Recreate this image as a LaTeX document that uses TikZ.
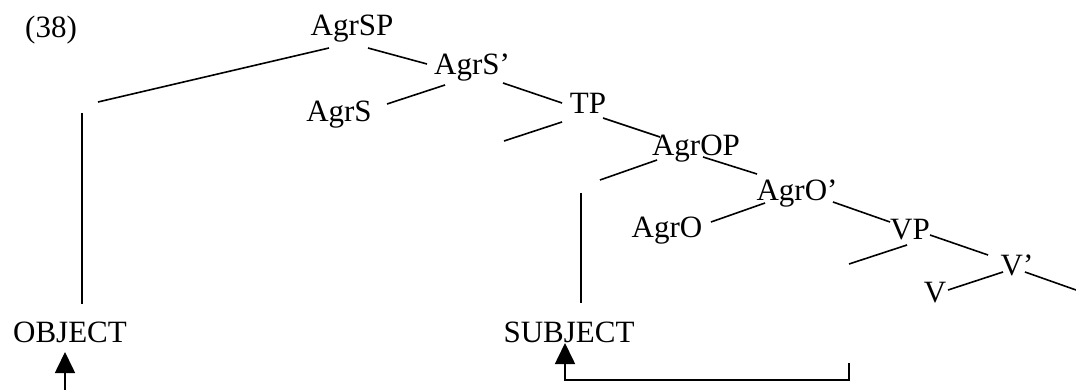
\documentclass[tikz,border=0pt]{standalone}
\usepackage{fontspec}
\setmainfont{Liberation Serif}
\usetikzlibrary{arrows.meta}
\begin{document}
\begin{tikzpicture}[x=1pt,y=-1pt,
  lbl/.style={anchor=base,inner sep=0pt,font=\fontsize{31}{37}\selectfont},
  branch/.style={line width=1.6pt},
  mv/.style={line width=1.6pt,-{Triangle[width=20pt,length=21pt]}}]
\useasboundingbox (0,0) rectangle (1076,390);
% labels
\node[lbl] (ex) at (51,38) {(38)};
\node[lbl] (agrsp) at (352,36) {AgrSP};
\node[lbl] (agrsbar) at (472,75) {AgrS’};
\node[lbl] (agrs) at (339,122) {AgrS};
\node[lbl] (tp) at (588,114) {TP};
\node[lbl] (agrop) at (696,156) {AgrOP};
\node[lbl] (agrobar) at (797,201) {AgrO’};
\node[lbl] (agro) at (667,237) {AgrO};
\node[lbl] (vp) at (910,240) {VP};
\node[lbl] (vbar) at (1017,275) {V’};
\node[lbl] (v) at (935,302) {V};
\node[lbl] (object) at (70,342) {OBJECT};
\node[lbl] (subject) at (569,342) {SUBJECT};
% branch end points
\coordinate (a1) at (329,48);  \coordinate (a2) at (98,102);
\coordinate (a3) at (368,48);  \coordinate (a4) at (427,64);
\coordinate (b1) at (445,85);  \coordinate (b2) at (387,104);
\coordinate (b3) at (503,83);  \coordinate (b4) at (562,103);
\coordinate (t1) at (562,122); \coordinate (t2) at (504,141);
\coordinate (t3) at (603,118); \coordinate (t4) at (660,137);
\coordinate (o1) at (657,160); \coordinate (o2) at (600,180);
\coordinate (o3) at (703,157); \coordinate (o4) at (757,174);
\coordinate (p1) at (765,203); \coordinate (p2) at (711,222);
\coordinate (p3) at (833,202); \coordinate (p4) at (890,222);
\coordinate (q1) at (907,245); \coordinate (q2) at (849,264);
\coordinate (q3) at (930,235); \coordinate (q4) at (988,255);
\coordinate (r1) at (1003,272); \coordinate (r2) at (948,290);
\coordinate (r3) at (1025,272); \coordinate (r4) at (1076,290);
\coordinate (s1) at (82,113);  \coordinate (s2) at (82,304);
\coordinate (u1) at (581,193); \coordinate (u2) at (581,303);
% branches
\draw[branch] (a1) -- (a2);
\draw[branch] (a3) -- (a4);
\draw[branch] (b1) -- (b2);
\draw[branch] (b3) -- (b4);
\draw[branch] (t1) -- (t2);
\draw[branch] (t3) -- (t4);
\draw[branch] (o1) -- (o2);
\draw[branch] (o3) -- (o4);
\draw[branch] (p1) -- (p2);
\draw[branch] (p3) -- (p4);
\draw[branch] (q1) -- (q2);
\draw[branch] (q3) -- (q4);
\draw[branch] (r1) -- (r2);
\draw[branch] (r3) -- (r4);
\draw[branch] (s1) -- (s2);
\draw[branch] (u1) -- (u2);
% movement arrows
\coordinate (m1) at (65,390); \coordinate (m2) at (65,352);
\draw[mv] (m1) -- (m2);
\coordinate (n1) at (849,363); \coordinate (n2) at (849,380);
\coordinate (n3) at (565,380); \coordinate (n4) at (565,343);
\draw[mv] (n1) -- (n2) -- (n3) -- (n4);
\end{tikzpicture}
\end{document}
